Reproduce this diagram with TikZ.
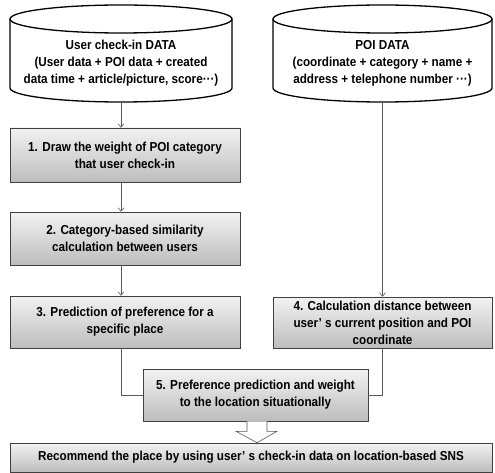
\documentclass[tikz,border=0pt]{standalone}
\usepackage{fontspec}
\setmainfont[FakeStretch=0.9]{Liberation Sans}
\usetikzlibrary{arrows.meta,shadows,calc}
\begin{document}
\begin{tikzpicture}[x=1pt,y=-1pt,
  stepbox/.style={draw=black!75, line width=0.6pt, top color=black!5, bottom color=black!26,
    drop shadow={shadow xshift=1.2pt, shadow yshift=-1.2pt, opacity=0.35, fill=black!60},
    align=center, font=\bfseries\fontsize{13}{17}\selectfont, inner sep=0pt},
  cyltext/.style={align=center, font=\bfseries\fontsize{13}{17}\selectfont, inner sep=0pt},
  cylbody/.style={line width=1.3pt, draw=black},
  link/.style={draw=black!65, line width=0.6pt},
  arr/.style={link, -{Straight Barb[length=3.5pt,width=6pt]}}
]
\useasboundingbox (0,0) rectangle (495,473);
% cylinders
\draw[cylbody] (121,19) ellipse [x radius=111, y radius=14];
\draw[cylbody] (10,19) -- (10,88) arc[start angle=180, end angle=0, x radius=111, y radius=14] -- (232,19);
\draw[cylbody] (382.5,19) ellipse [x radius=109.5, y radius=14];
\draw[cylbody] (273,19) -- (273,88) arc[start angle=180, end angle=0, x radius=109.5, y radius=14] -- (492,19);
\node[minimum width=222pt, minimum height=97pt, inner sep=0pt] (cylL) at (121,53.5) {};
\node[minimum width=219pt, minimum height=97pt, inner sep=0pt] (cylR) at (382.5,53.5) {};
\node[cyltext] (tL) at (121,63) {User check-in DATA\\(User data + POI data + created\\data time + article/picture, score···)};
\node[cyltext] (tR) at (382.5,63) {POI DATA\\(coordinate + category + name +\\address + telephone number ···)};
% boxes
\node[stepbox, minimum width=230pt, minimum height=54pt] (b1) at (125,155) {1. Draw the weight of POI category\\that user check-in};
\node[stepbox, minimum width=230pt, minimum height=53pt] (b2) at (125,238.5) {2. Category-based similarity\\calculation between users};
\node[stepbox, minimum width=230pt, minimum height=52pt] (b3) at (125,322) {3. Prediction of preference for a\\specific place};
\node[stepbox, minimum width=219pt, minimum height=51pt] (b4) at (382.5,322.5) {4. Calculation distance between\\user’ s current position and POI\\coordinate};
\node[stepbox, minimum width=225pt, minimum height=52pt] (b5) at (255.5,395) {5. Preference prediction and weight\\to the location situationally};
\node[stepbox, minimum width=482pt, minimum height=29pt] (b6) at (251,457.5) {Recommend the place by using user’ s check-in data on location-based SNS};
% connectors
\draw[arr] (cylL.south) -- (cylL.south |- b1.north);
\draw[arr] (cylL.south |- b1.south) -- (cylL.south |- b2.north);
\draw[arr] (cylL.south |- b2.south) -- (cylL.south |- b3.north);
\draw[arr] (cylR.south) -- (cylR.south |- b4.north);
\draw[link] (cylL.south |- b3.south) |- (b5.west);
\draw[link] (cylR.south |- b4.south) |- (b5.east);
% hollow arrow
\coordinate (ha) at ($(b5.south)+(1.5,0)$);
\draw[draw=black!65, fill=white, line width=0.6pt]
  ($(ha)+(-10,0)$) -- ($(ha)+(-10,10)$) -- ($(ha)+(-21,10)$) -- (ha |- b6.north) -- ($(ha)+(20,10)$) -- ($(ha)+(10,10)$) -- ($(ha)+(10,0)$);
\end{tikzpicture}
\end{document}
